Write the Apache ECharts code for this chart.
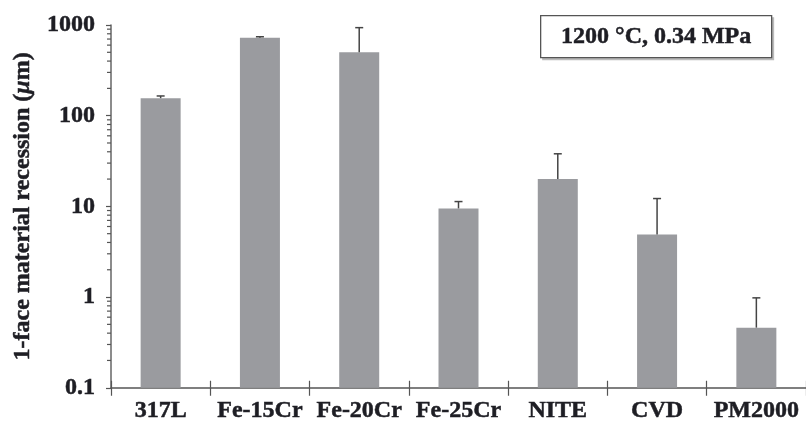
<!DOCTYPE html>
<html>
<head>
<meta charset="utf-8">
<script src="https://cdn.jsdelivr.net/npm/echarts@6/dist/echarts.min.js"></script>
<style>html,body{margin:0;padding:0;background:#fff}#c{width:806px;height:423px}</style>
</head>
<body>
<div id="c"></div>
<script>
const categories = ['317L', 'Fe-15Cr', 'Fe-20Cr', 'Fe-25Cr', 'NITE', 'CVD', 'PM2000'];
const recession = [156, 724, 501, 9.5, 20, 4.9, 0.46];
const errorTop = [165, 742, 935, 11.3, 38, 12.2, 0.98];
const minorTickValues = [0.2,0.3,0.4,0.5,0.6,0.7,0.8,0.9,2,3,4,5,6,7,8,9,20,30,40,50,60,70,80,90,200,300,400,500,600,700,800,900];
const axisMin = 0.1;
const axisMax = 1000;
const yAxisName = '1-face material recession ({i|μ}m)';
const conditionLabel = '1200 °C, 0.34 MPa';

const FONT = '"Liberation Serif", "Times New Roman", serif';
const TXT = '#1e1e24';
const HEAVY = {textBorderColor: TXT, textBorderWidth: 0.5};
const chart = echarts.init(document.getElementById('c'), null, {renderer: 'canvas'});

chart.setOption({
  animation: false,
  backgroundColor: '#fff',
  grid: {left: 111, right: -2, top: 25, bottom: 34, containLabel: false},
  xAxis: [{
    type: 'category',
    data: categories,
    axisLine: {lineStyle: {color: '#555', width: 1.5}},
    axisTick: {show: true, length: 8, lineStyle: {color: '#555', width: 1.2}},
    axisLabel: Object.assign({fontFamily: FONT, fontWeight: 'bold', fontSize: 24, color: TXT, margin: 11, interval: 0}, HEAVY)
  }, {
    type: 'category',
    data: categories,
    position: 'bottom',
    axisLine: {show: false},
    axisTick: {show: true, inside: true, length: 7, lineStyle: {color: '#555', width: 1.2}},
    axisLabel: {show: false}
  }],
  yAxis: {
    type: 'log',
    logBase: 10,
    min: axisMin,
    max: axisMax,
    name: yAxisName,
    nameLocation: 'middle',
    nameGap: 76,
    nameTextStyle: Object.assign({
      fontFamily: FONT, fontWeight: 'bold', fontSize: 24, color: TXT,
      rich: {i: Object.assign({fontFamily: FONT, fontWeight: 'bold', fontStyle: 'italic', fontSize: 24, color: TXT}, HEAVY)}
    }, HEAVY),
    axisLine: {show: true, lineStyle: {color: '#666', width: 1.5}},
    axisTick: {show: true, length: 5, lineStyle: {color: '#555', width: 1.2}},
    splitLine: {show: false},
    axisLabel: Object.assign({
      fontFamily: FONT, fontWeight: 'bold', fontSize: 24, color: TXT, margin: 16,
      formatter: function (v) { return String(+v.toPrecision(6)); }
    }, HEAVY)
  },
  series: [{
    type: 'custom',
    name: 'bars',
    data: categories.map(function (c, i) { return [i, recession[i]]; }),
    encode: {x: 0, y: 1},
    renderItem: function (params, api) {
      const top = api.coord([api.value(0), api.value(1)]);
      const base = api.coord([api.value(0), axisMin]);
      const w = 40;
      return {type: 'rect', shape: {x: top[0] - w / 2, y: top[1], width: w, height: base[1] - top[1]}, style: {fill: '#9a9b9f'}};
    },
    z: 2
  }, {
    type: 'custom',
    name: 'errors',
    data: categories.map(function (c, i) { return [i, recession[i], errorTop[i]]; }),
    encode: {x: 0, y: [1, 2]},
    renderItem: function (params, api) {
      const b = api.coord([api.value(0), api.value(1)]);
      const t = api.coord([api.value(0), api.value(2)]);
      return {
        type: 'group',
        children: [
          {type: 'line', shape: {x1: b[0], y1: b[1], x2: t[0], y2: t[1]}, style: {stroke: '#444', lineWidth: 1.5}},
          {type: 'line', shape: {x1: t[0] - 4, y1: t[1], x2: t[0] + 4, y2: t[1]}, style: {stroke: '#444', lineWidth: 1.5}}
        ]
      };
    },
    z: 3
  }, {
    type: 'custom',
    name: 'minorTicks',
    data: minorTickValues.map(function (v) { return [0, v]; }),
    encode: {x: 0, y: 1},
    clip: false,
    renderItem: function (params, api) {
      const p = api.coord([0, api.value(1)]);
      const x0 = params.coordSys.x;
      return {type: 'line', shape: {x1: x0 - 4, y1: p[1], x2: x0, y2: p[1]}, style: {stroke: '#555', lineWidth: 1.2}};
    },
    z: 5
  }],
  graphic: [{
    type: 'group',
    left: 540,
    top: 15,
    children: [
      {type: 'rect', shape: {x: 1.5, y: 1.5, width: 232, height: 43}, style: {fill: '#bbb'}},
      {type: 'rect', shape: {x: 0, y: 0, width: 231, height: 42}, style: {fill: '#fff', stroke: '#555', lineWidth: 1.3}},
      {type: 'text', x: 115.5, y: 21, style: {text: conditionLabel, fontFamily: FONT, fontWeight: 'bold', fontSize: 24, fill: TXT, stroke: TXT, lineWidth: 0.5, align: 'center', verticalAlign: 'middle'}}
    ]
  }]
});
</script>
</body>
</html>
